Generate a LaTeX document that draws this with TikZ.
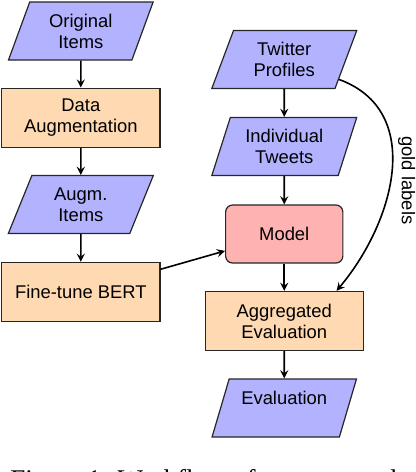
\documentclass[tikz,border=0pt]{standalone}
\usepackage{fontspec}
\setmainfont{Liberation Serif}
\setsansfont{Liberation Sans}
\usepackage{tikz}
\usetikzlibrary{arrows,shapes.geometric}

\begin{document}
\begin{tikzpicture}[
  items/.style={trapezium, trapezium left angle=70, trapezium right angle=110, trapezium stretches=true, draw=black!85, semithick, fill=blue!30, minimum width=2.55cm, minimum height=1.02cm, inner sep=1pt, align=center, font=\sffamily\fontsize{9.2}{10.5}\selectfont},
  task/.style={rectangle, draw=black!85, semithick, fill=orange!30, minimum width=2.78cm, minimum height=1.04cm, align=center, font=\sffamily\fontsize{9.2}{10.5}\selectfont},
  model/.style={rectangle, rounded corners=3.5pt, draw=black!85, semithick, fill=red!30, minimum width=2.06cm, minimum height=1.02cm, font=\sffamily\fontsize{9.2}{10.5}\selectfont},
  flow/.style={-stealth, thick, black}
]
\useasboundingbox (0 cm,0 cm) rectangle (7.31 cm,-8.294 cm);
\node[items] (1) at (1.42 cm,-0.545 cm) {Original\\Items};
\node[task] (2) at (1.42 cm,-2.07 cm) {Data\\Augmentation};
\node[items] (3) at (1.42 cm,-3.594 cm) {Augm.\\Items};
\node[task] (4) at (1.42 cm,-5.131 cm) {Fine-tune BERT};
\node[items] (5) at (4.995 cm,-1.046 cm) {Twitter\\Profiles};
\node[items] (6) at (4.995 cm,-2.575 cm) {Individual\\Tweets};
\node[model] (7) at (4.995 cm,-4.112 cm) {Model};
\node[task] (8) at (4.995 cm,-5.641 cm) {Aggregated\\Evaluation};
\node[items] (9) at (4.995 cm,-7.17 cm) {Evaluation\\\mbox{}};
\draw[flow] (1) -- (2);
\draw[flow] (2) -- (3);
\draw[flow] (3) -- (4);
\draw[flow] (4) -- (7);
\draw[flow] (5) -- (6);
\draw[flow] (6) -- (7);
\draw[flow] (7) -- (8);
\draw[flow] (8) -- (9);
\draw[flow] (5.-20) to[out=-20, in=50, looseness=1.1] node[pos=0.54, anchor=south, rotate=-90, font=\sffamily\fontsize{9.2}{10.5}\selectfont] (10) {gold labels} (8.30);
\begin{scope}
\clip (0 cm,0 cm) rectangle (7.31 cm,-8.294 cm);
\node[anchor=base west, inner sep=0pt, font=\fontsize{13.5}{16}\selectfont] (11) at (0.176 cm,-8.59 cm) {Figure 1: Workflow of our approach.};
\end{scope}
\end{tikzpicture}
\end{document}
